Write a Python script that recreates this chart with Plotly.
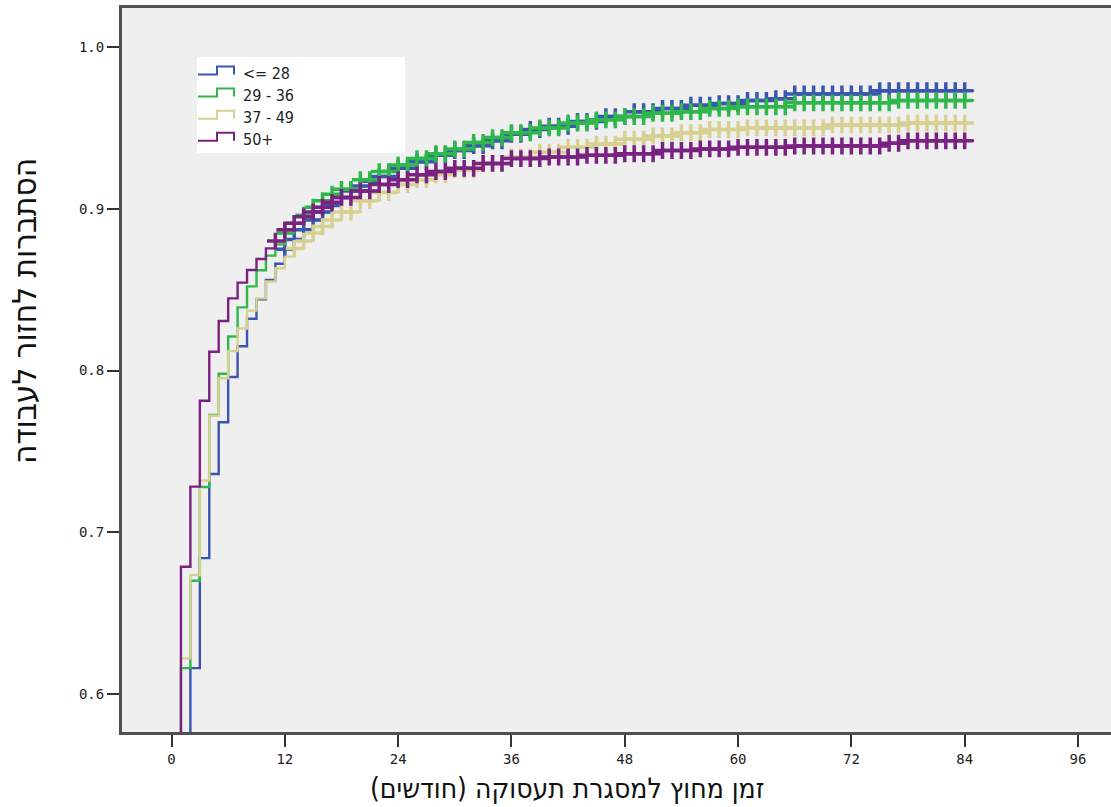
import plotly.graph_objects as go

# ---------------- data ----------------
group_labels = ["&lt;= 28", "29 - 36", "37 - 49", "50+"]
group_colors = ["#3b55b0", "#2fb84a", "#d6d190", "#7a2282"]

t_blue = [0, 1, 2, 3, 4, 5, 6, 7, 8, 9, 10, 11, 12, 13, 14, 15, 16, 17, 18, 19, 20, 21, 22,
          24, 26, 28, 30, 32, 34, 36, 38, 40, 43, 46, 49, 52, 55, 58, 61, 64, 66, 75, 85]
v_blue = [0.0, 0.50, 0.616, 0.684, 0.736, 0.768, 0.796, 0.815, 0.832, 0.844, 0.856, 0.866, 0.875,
          0.881, 0.887, 0.893, 0.898, 0.902, 0.907, 0.911, 0.914, 0.917, 0.920,
          0.925, 0.929, 0.933, 0.936, 0.939, 0.942, 0.946, 0.949, 0.951, 0.954, 0.957, 0.960,
          0.962, 0.964, 0.965, 0.967, 0.968, 0.971, 0.973, 0.973]

t_green = [0, 1, 2, 3, 4, 5, 6, 7, 8, 9, 10, 11, 12, 13, 14, 15, 16, 17, 18, 20, 22,
           24, 26, 28, 30, 32, 34, 36, 39, 42, 45, 48, 51, 54, 57, 60, 66, 77, 85]
v_green = [0.0, 0.616, 0.670, 0.728, 0.7725, 0.798, 0.821, 0.839, 0.852, 0.862, 0.871, 0.878, 0.885,
           0.891, 0.896, 0.901, 0.905, 0.909, 0.912, 0.918, 0.923,
           0.927, 0.931, 0.934, 0.937, 0.941, 0.944, 0.947, 0.950, 0.953, 0.955, 0.957, 0.959,
           0.960, 0.962, 0.963, 0.9655, 0.967, 0.967]

t_yellow = [0, 1, 2, 3, 4, 5, 6, 7, 8, 9, 10, 11, 12, 13, 14, 15, 16, 17, 18, 20, 22,
            24, 26, 28, 30, 33, 36, 39, 42, 45, 48, 51, 54, 57, 61, 70, 78, 85]
v_yellow = [0.0, 0.622, 0.6736, 0.732, 0.772, 0.7952, 0.812, 0.826, 0.837, 0.8446, 0.855, 0.8632,
            0.8704, 0.8755, 0.880, 0.885, 0.889, 0.893, 0.898, 0.905, 0.910,
            0.915, 0.918, 0.921, 0.924, 0.928, 0.932, 0.935, 0.938, 0.940, 0.943, 0.945, 0.947,
            0.949, 0.950, 0.9518, 0.953, 0.953]

t_purple = [0, 1, 2, 3, 4, 5, 6, 7, 8, 9, 10, 11, 12, 13, 14, 15, 16, 17, 18, 20, 22,
            24, 26, 28, 30, 33, 36, 40, 44, 48, 52, 56, 60, 66, 76, 78, 85]
v_purple = [0.0, 0.6787, 0.7282, 0.7813, 0.8116, 0.8306, 0.8446, 0.8543, 0.8621, 0.8689, 0.8755,
            0.880, 0.887, 0.891, 0.895, 0.898, 0.901, 0.904, 0.907, 0.911, 0.915,
            0.918, 0.921, 0.923, 0.925, 0.928, 0.931, 0.932, 0.933, 0.934, 0.936, 0.937, 0.938,
            0.9388, 0.9405, 0.942, 0.942]

c_blue = [12, 13, 14, 15, 16, 17, 18, 19, 20, 21, 22, 23, 24, 25, 26, 27, 28, 29, 30, 31, 32,
          33, 34, 35, 36, 37, 38, 39, 40, 41, 42, 43, 44, 45, 46, 47, 48, 49, 50, 51, 52, 53,
          54, 55, 56, 57, 58, 59, 60, 61, 62, 63, 64, 65, 66, 67, 68, 69, 70, 71, 72, 73, 74,
          75, 76, 77, 78, 79, 80, 81, 82, 83, 84]
c_green = [12, 13, 14, 15, 16, 17, 18, 19, 20, 21, 22, 23, 24, 25, 26, 27, 28, 29, 30, 31, 32,
           33, 34, 35, 36, 37, 38, 39, 40, 41, 42, 43, 44, 45, 46, 47, 48, 49, 50, 51, 52, 53,
           54, 55, 56, 57, 58, 59, 60, 61, 62, 63, 64, 65, 66, 67, 68, 69, 70, 71, 72, 73, 74,
           75, 76, 77, 78, 79, 80, 81, 82, 83, 84]
c_yellow = [13, 14, 15, 16, 17, 18, 19, 20, 21, 22, 23, 24, 25, 26, 27, 28, 29, 30, 31, 32,
            33, 34, 35, 36, 37, 38, 39, 40, 41, 42, 43, 44, 45, 46, 47, 48, 49, 50, 51, 52, 53,
            54, 55, 56, 57, 58, 59, 60, 61, 62, 63, 64, 65, 66, 67, 68, 69, 70, 71, 72, 73, 74,
            75, 76, 77, 78, 79, 80, 81, 82, 83, 84]
c_purple = [11, 12, 13, 14, 15, 16, 17, 18, 19, 20, 21, 22, 23, 24, 25, 26, 27, 28, 29, 30, 31, 32,
            33, 34, 35, 36, 37, 38, 39, 40, 41, 42, 43, 44, 45, 46, 47, 48, 49, 50, 51, 52, 53,
            54, 55, 56, 57, 58, 59, 60, 61, 62, 63, 64, 65, 66, 67, 68, 69, 70, 71, 72, 73, 74,
            75, 76, 77, 78, 79, 80, 81, 82, 83, 84]

x_ticks = [0, 12, 24, 36, 48, 60, 72, 84, 96]
y_ticks = [0.6, 0.7, 0.8, 0.9, 1.0]
y_ticktext = ["0.6", "0.7", "0.8", "0.9", "1.0"]

x_title = "זמן מחוץ למסגרת תעסוקה (חודשים)\u200f"
y_title = "הסתברות לחזור לעבודה"

# ---------------- figure ----------------
W, H = 1111, 807
L, T, R, B = 122, 8, 0, 75
PW, PH = W - L - R, H - T - B
TITLE_FONT = "Liberation Sans Narrow, DejaVu Sans Condensed, Liberation Sans"


def px(xp):
    return (xp - L) / PW


def py(yp):
    return (H - B - yp) / PH


def step_at(times, vals, t):
    v = vals[0]
    for tt, vv in zip(times, vals):
        if tt <= t:
            v = vv
    return v


series = [
    (t_blue, v_blue, c_blue),
    (t_green, v_green, c_green),
    (t_yellow, v_yellow, c_yellow),
    (t_purple, v_purple, c_purple),
]

fig = go.Figure()
for (tt, vv, cc), col in zip(series, group_colors):
    fig.add_trace(go.Scatter(x=tt, y=vv, mode="lines",
                             line=dict(shape="hv", color=col, width=2.4),
                             showlegend=False, hoverinfo="skip"))
    fig.add_trace(go.Scatter(x=cc, y=[step_at(tt, vv, c) for c in cc], mode="markers",
                             marker=dict(symbol="cross-thin", size=12,
                                         line=dict(color=col, width=3.5)),
                             showlegend=False, hoverinfo="skip"))

shapes = [dict(type="rect", xref="paper", yref="paper", layer="below",
               x0=px(197), x1=px(405), y0=py(153), y1=py(57),
               fillcolor="white", line=dict(width=0))]
annotations = []
for i, (lab, col) in enumerate(zip(group_labels, group_colors)):
    ylow = 74.5 + 22.1 * i
    yhigh = ylow - 8
    path = (f"M {px(198)},{py(ylow)} L {px(217)},{py(ylow)} L {px(217)},{py(yhigh)} "
            f"L {px(234)},{py(yhigh)} L {px(234)},{py(ylow)}")
    shapes.append(dict(type="path", xref="paper", yref="paper", path=path,
                       line=dict(color=col, width=2), layer="above"))
    annotations.append(dict(xref="paper", yref="paper", x=px(241), y=py(ylow - 1),
                            text=lab, showarrow=False, xanchor="left", yanchor="middle",
                            font=dict(family=TITLE_FONT, size=16, color="#222")))

annotations.append(dict(xref="paper", yref="paper", x=px(567), y=py(789), text=x_title,
                        showarrow=False, xanchor="center", yanchor="middle",
                        font=dict(family=TITLE_FONT, size=28, color="#111")))
annotations.append(dict(xref="paper", yref="paper", x=px(25), y=py(311), text=y_title,
                        textangle=-90, showarrow=False, xanchor="center", yanchor="middle",
                        font=dict(family=TITLE_FONT, size=33, color="#111")))

x0_px = 171.5
ppm = (1078 - 171.5) / 96.0
y1_px, y0_px = 47.0, 694.0
ppu = (y0_px - y1_px) / 0.4

fig.update_layout(
    width=W, height=H,
    margin=dict(l=L, r=R, t=T, b=B, pad=0),
    paper_bgcolor="white", plot_bgcolor="#efefef",
    shapes=shapes, annotations=annotations,
    xaxis=dict(range=[(L - x0_px) / ppm, (W - R - x0_px) / ppm],
               tickvals=x_ticks, ticktext=[str(v) for v in x_ticks],
               ticks="outside", ticklen=12, tickwidth=2, tickcolor="#333",
               showgrid=False, zeroline=False, showline=True, mirror=True,
               linecolor="#505050", linewidth=3,
               tickfont=dict(family="DejaVu Sans Mono", size=14, color="#222")),
    yaxis=dict(range=[0.6 - (H - B - y0_px) / ppu, 1.0 + (y1_px - T) / ppu],
               tickvals=y_ticks, ticktext=y_ticktext,
               ticks="outside", ticklen=12, tickwidth=2, tickcolor="#333",
               showgrid=False, zeroline=False, showline=True, mirror=False,
               linecolor="#505050", linewidth=3,
               tickfont=dict(family="DejaVu Sans Mono", size=14, color="#222")),
)

fig.write_html("out.html")
